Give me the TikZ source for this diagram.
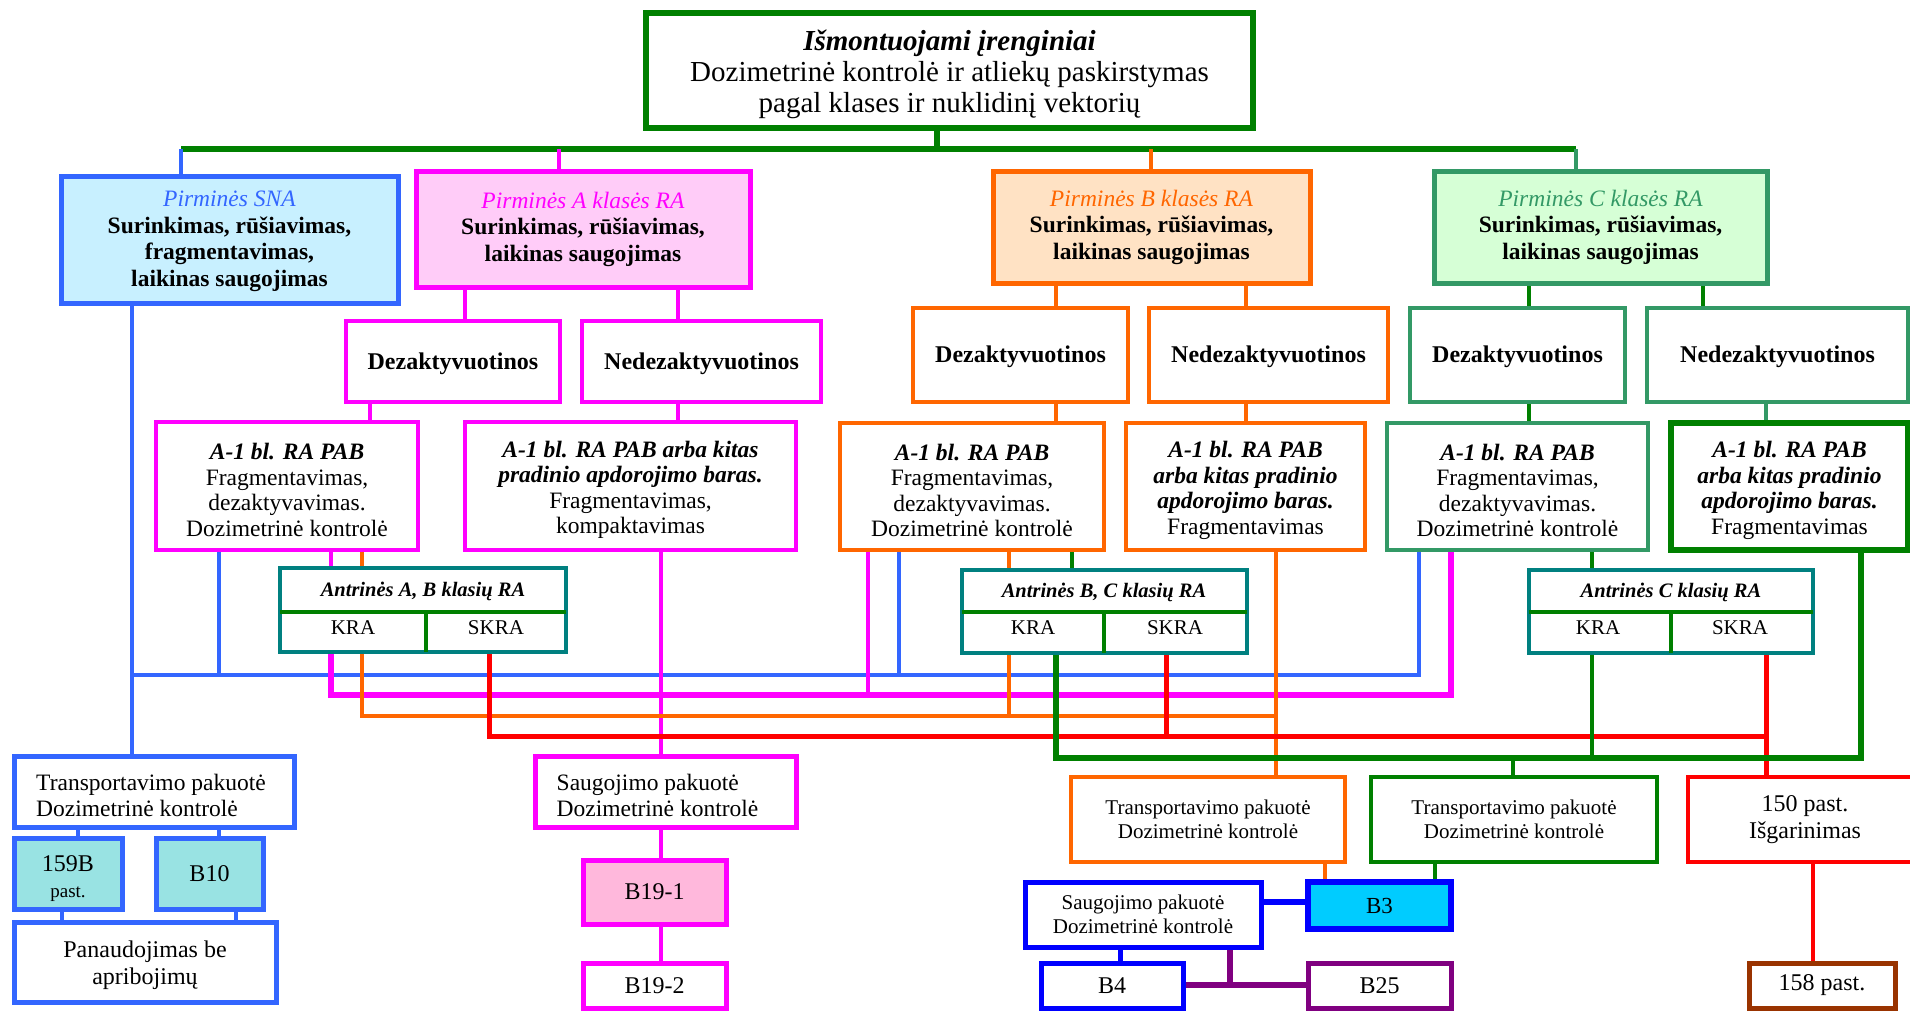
\documentclass[tikz,border=0pt]{standalone}
\usepackage{fontspec}
\setmainfont{Liberation Serif}
\usetikzlibrary{backgrounds}
\definecolor{cgreen}{HTML}{008000}
\definecolor{csna}{HTML}{3366FF}
\definecolor{cmag}{HTML}{FF00FF}
\definecolor{corange}{HTML}{FF6600}
\definecolor{csea}{HTML}{339966}
\definecolor{cteal}{HTML}{008080}
\definecolor{cred}{HTML}{FF0000}
\definecolor{cblue}{HTML}{0000FF}
\definecolor{cpurple}{HTML}{800080}
\definecolor{cbrown}{HTML}{993300}
\definecolor{fsna}{HTML}{C8F0FF}
\definecolor{fa}{HTML}{FFCCF8}
\definecolor{fb}{HTML}{FFE2C4}
\definecolor{fc}{HTML}{D6FFD6}
\definecolor{fteal}{HTML}{99E3E3}
\definecolor{fpink}{HTML}{FFB8DC}
\definecolor{fbthree}{HTML}{00CCFF}
\newcommand\myfs[2]{\fontsize{#1}{#2}\selectfont}
% name, x1, y1, x2, y2, box style, text style, text
\newcommand\bx[8]{\node[#6, minimum width={(#4)-(#2)}, minimum height={(#5)-(#3)}] (#1) at ({((#2)+(#4))/2},{((#3)+(#5))/2}) {};
  \node[txt, #7] (#1t) at (#1.center) {#8};}
\newcommand\vs[4]{\draw[#1] (#3.south -| #2,0) -- (#4.north -| #2,0);}
\tikzset{
  bx/.style={draw, inner sep=0pt, outer sep=0pt, fill=white, line width=4.5pt},
  prim/.style={bx, line width=5pt},
  txt/.style={inner sep=0pt, outer sep=0pt, align=center, font=\myfs{23.5}{25.5}},
  ptx/.style={font=\myfs{23.5}{26.5}},
  dzt/.style={font=\myfs{24}{26}\bfseries, yshift=-2pt},
  a1t/.style={yshift=-4pt},
  ant/.style={draw=cteal, line width=4.5pt, fill=white, inner sep=0pt, outer sep=0pt},
  antt/.style={font=\myfs{20.5}{22}\bfseries\itshape, inner sep=0pt},
  kra/.style={font=\myfs{21}{23}, inner sep=0pt},
  dv/.style={cgreen, line width=4pt},
  ln/.style={line join=miter, line cap=butt},
}
\begin{document}
\begin{tikzpicture}[x=1pt,y=-1pt]
\useasboundingbox (0,0) rectangle (1910,1010);
% ---------- boxes ----------
\bx{top}{646}{13}{1253}{128}{bx, draw=cgreen, line width=5.5pt}{font=\myfs{29}{31}, yshift=-4pt}{\textbf{\textit{Išmontuojami įrenginiai}}\\Dozimetrinė kontrolė ir atliekų paskirstymas\\pagal klases ir nuklidinį vektorių}
\bx{sna}{61}{176}{398}{303}{prim, draw=csna, fill=fsna}{ptx, yshift=-2pt}{\textcolor{csna}{\textit{Pirminės SNA}}\\\textbf{Surinkimas, rūšiavimas,}\\\textbf{fragmentavimas,}\\\textbf{laikinas saugojimas}}
\bx{pa}{416}{171}{750}{287}{prim, draw=cmag, fill=fa}{ptx}{\textcolor{cmag}{\textit{Pirminės A klasės RA}}\\\textbf{Surinkimas, rūšiavimas,}\\\textbf{laikinas saugojimas}}
\bx{pb}{993}{171}{1310}{283}{prim, draw=corange, fill=fb}{ptx}{\textcolor{corange}{\textit{Pirminės B klasės RA}}\\\textbf{Surinkimas, rūšiavimas,}\\\textbf{laikinas saugojimas}}
\bx{pc}{1434}{171}{1767}{283}{prim, draw=csea, fill=fc}{ptx}{\textcolor{csea}{\textit{Pirminės C klasės RA}}\\\textbf{Surinkimas, rūšiavimas,}\\\textbf{laikinas saugojimas}}
\bx{da}{346}{321}{560}{402}{bx, draw=cmag}{dzt}{Dezaktyvuotinos}
\bx{na}{582}{321}{821}{402}{bx, draw=cmag}{dzt}{Nedezaktyvuotinos}
\bx{db}{913}{308}{1128}{402}{bx, draw=corange}{dzt}{Dezaktyvuotinos}
\bx{nb}{1149}{308}{1388}{402}{bx, draw=corange}{dzt}{Nedezaktyvuotinos}
\bx{dc}{1410}{308}{1625}{402}{bx, draw=csea}{dzt}{Dezaktyvuotinos}
\bx{nc}{1647}{308}{1908}{402}{bx, draw=csea}{dzt}{Nedezaktyvuotinos}
\bx{a1ad}{156}{422}{418}{550}{bx, draw=cmag}{a1t}{\textbf{\textit{A-1 bl. RA PAB}}\\Fragmentavimas,\\dezaktyvavimas.\\Dozimetrinė kontrolė}
\bx{a1an}{465}{422}{796}{550}{bx, draw=cmag}{a1t}{\textbf{\textit{A-1 bl. RA PAB arba kitas}}\\\textbf{\textit{pradinio apdorojimo baras.}}\\Fragmentavimas,\\kompaktavimas}
\bx{a1bd}{840}{423}{1104}{550}{bx, draw=corange}{a1t}{\textbf{\textit{A-1 bl. RA PAB}}\\Fragmentavimas,\\dezaktyvavimas.\\Dozimetrinė kontrolė}
\bx{a1bn}{1126}{423}{1365}{550}{bx, draw=corange}{a1t}{\textbf{\textit{A-1 bl. RA PAB}}\\\textbf{\textit{arba kitas pradinio}}\\\textbf{\textit{apdorojimo baras.}}\\Fragmentavimas}
\bx{a1cd}{1387}{423}{1648}{550}{bx, draw=csea}{a1t}{\textbf{\textit{A-1 bl. RA PAB}}\\Fragmentavimas,\\dezaktyvavimas.\\Dozimetrinė kontrolė}
\bx{a1cn}{1671}{423}{1908}{550}{bx, draw=cgreen, line width=6pt}{a1t}{\textbf{\textit{A-1 bl. RA PAB}}\\\textbf{\textit{arba kitas pradinio}}\\\textbf{\textit{apdorojimo baras.}}\\Fragmentavimas}
% secondary boxes
\node[ant, minimum width=286, minimum height=84] (ab) at (423,610) {};
\draw[dv] (ab.west |- 0,612) -- (ab.east |- 0,612);
\draw[dv] (426,612) -- (ab.south -| 426,0);
\node[antt] (abt) at (423,591) {Antrinės A, B klasių RA};
\node[kra] (abk) at (353,628) {KRA};
\node[kra] (abs) at (496,628) {SKRA};
\node[ant, minimum width=285, minimum height=83] (bc) at (1104.5,611.5) {};
\draw[dv] (bc.west |- 0,612) -- (bc.east |- 0,612);
\draw[dv] (1104,612) -- (bc.south -| 1104,0);
\node[antt] (bct) at (1104,592) {Antrinės B, C klasių RA};
\node[kra] (bck) at (1033,628) {KRA};
\node[kra] (bcs) at (1175,628) {SKRA};
\node[ant, minimum width=284, minimum height=83] (cc) at (1671,611.5) {};
\draw[dv] (cc.west |- 0,612) -- (cc.east |- 0,612);
\draw[dv] (1671,612) -- (cc.south -| 1671,0);
\node[antt] (cct) at (1671,592) {Antrinės C klasių RA};
\node[kra] (cck) at (1598,628) {KRA};
\node[kra] (ccs) at (1740,628) {SKRA};
% lower boxes
\bx{tr1}{14}{756}{294}{827}{bx, draw=csna, line width=5pt}{align=left, font=\myfs{23.5}{26}, yshift=-4pt, xshift=-3pt}{Transportavimo pakuotė\\Dozimetrinė kontrolė}
\bx{b159}{14}{838}{122}{909}{bx, draw=csna, fill=fteal, line width=5pt}{font=\myfs{24}{26}, yshift=-5pt}{159B\\{\myfs{19}{21}past.}}
\bx{b10}{156}{838}{263}{909}{bx, draw=csna, fill=fteal, line width=5pt}{font=\myfs{24}{26}}{B10}
\bx{pan}{14}{922}{276}{1002}{bx, draw=csna, line width=5pt}{font=\myfs{24}{27}, yshift=-3pt}{Panaudojimas be\\apribojimų}
\bx{sm}{535}{756}{796}{827}{bx, draw=cmag, line width=5pt}{align=left, font=\myfs{23.5}{26}, yshift=-4pt, xshift=-8pt}{Saugojimo pakuotė\\Dozimetrinė kontrolė}
\bx{b191}{583}{860}{726}{924}{bx, draw=cmag, fill=fpink, line width=5pt}{font=\myfs{24}{26}}{B19-1}
\bx{b192}{583}{963}{726}{1008}{bx, draw=cmag, line width=5pt}{font=\myfs{24}{26}}{B19-2}
\bx{tro}{1071}{777}{1345}{862}{bx, draw=corange}{font=\myfs{21}{24}}{Transportavimo pakuotė\\Dozimetrinė kontrolė}
\bx{trg}{1371}{777}{1657}{862}{bx, draw=cgreen}{font=\myfs{21}{24}}{Transportavimo pakuotė\\Dozimetrinė kontrolė}
\bx{p150}{1688}{777}{1922}{862}{bx, draw=cred}{font=\myfs{24}{27}}{150 past.\\Išgarinimas}
\bx{b3}{1308}{882}{1451}{929}{bx, draw=cblue, fill=fbthree, line width=6pt}{font=\myfs{23}{25}}{B3}
\bx{sb}{1025}{882}{1261}{947}{bx, draw=cblue, line width=5pt}{font=\myfs{21}{24}}{Saugojimo pakuotė\\Dozimetrinė kontrolė}
\bx{b4}{1041}{963}{1183}{1008}{bx, draw=cblue, line width=5pt}{font=\myfs{24}{26}}{B4}
\bx{b25}{1308}{963}{1451}{1008}{bx, draw=cpurple, line width=5pt}{font=\myfs{24}{26}}{B25}
\bx{p158}{1749}{963}{1895}{1008}{bx, draw=cbrown, line width=5pt}{font=\myfs{24}{26}}{158 past.}
% ---------- connectors ----------
\begin{scope}[on background layer, ln]
\coordinate (busL) at (181,149);
\coordinate (busR) at (1576,149);
\draw[cgreen, line width=5.5pt] (top.south -| 937,0) -- (937,149);
\draw[cgreen, line width=5.5pt] (busL) -- (busR);
\draw[csna, line width=3.5pt] (busL) -- (sna.north -| busL);
\draw[cmag, line width=3.5pt] (559,149) -- (pa.north -| 559,0);
\draw[corange, line width=3.5pt] (1151,149) -- (pb.north -| 1151,0);
\draw[csea, line width=3.5pt] (busR) -- (pc.north -| busR);
\vs{cmag, line width=4pt}{465}{pa}{da}
\vs{cmag, line width=4pt}{678}{pa}{na}
\vs{corange, line width=4pt}{1056}{pb}{db}
\vs{corange, line width=4pt}{1246}{pb}{nb}
\vs{cgreen, line width=4pt}{1529}{pc}{dc}
\vs{cgreen, line width=4pt}{1703}{pc}{nc}
\vs{cmag, line width=4pt}{370}{da}{a1ad}
\vs{cmag, line width=4pt}{678}{na}{a1an}
\vs{corange, line width=4pt}{1056}{db}{a1bd}
\vs{corange, line width=4pt}{1246}{nb}{a1bn}
\vs{cgreen, line width=4pt}{1529}{dc}{a1cd}
\vs{csea, line width=4pt}{1766}{nc}{a1cn}
\vs{cmag, line width=4.5pt}{331}{a1ad}{ab}
\vs{corange, line width=4.5pt}{362}{a1ad}{ab}
\vs{corange, line width=4pt}{1009}{a1bd}{bc}
\vs{cgreen, line width=4pt}{1072}{a1bd}{bc}
\vs{cgreen, line width=4pt}{1592}{a1cd}{cc}
% blue
\draw[csna, line width=3.5pt] (sna.south -| 132,0) -- (tr1.north -| 132,0);
\draw[csna, line width=3.5pt] (132,675) -- (1419,675) -- (a1cd.south -| 1419,0);
\draw[csna, line width=3.5pt] (a1ad.south -| 219,0) -- (219,675);
\draw[csna, line width=3.5pt] (a1bd.south -| 899,0) -- (899,675);
% magenta
\draw[cmag, line width=5.5pt] (ab.south -| 331,0) -- (331,695) -- (1451,695) -- (a1cd.south -| 1451,0);
\draw[cmag, line width=3.5pt] (a1bd.south -| 868,0) -- (868,695);
\vs{cmag, line width=3.5pt}{661}{a1an}{sm}
% orange
\draw[corange, line width=4.5pt] (ab.south -| 362,0) -- (362,716) -- (1276,716);
\vs{corange, line width=4.5pt}{1276}{a1bn}{tro}
\draw[corange, line width=3.5pt] (bc.south -| 1009,0) -- (1009,716);
% red
\draw[cred, line width=5pt] (ab.south -| 489,0) -- (489,736) -- (1766,736);
\draw[cred, line width=5pt] (bc.south -| 1166,0) -- (1166,736);
\vs{cred, line width=5pt}{1766}{cc}{p150}
% green lower
\draw[cgreen, line width=6pt] (bc.south -| 1056,0) -- (1056,758) -- (1861,758) -- (a1cn.south -| 1861,0);
\draw[cgreen, line width=4pt] (cc.south -| 1592,0) -- (1592,758);
\draw[cgreen, line width=4pt] (1513,758) -- (trg.north -| 1513,0);
% bottom
\vs{corange, line width=4pt}{1325}{tro}{b3}
\vs{cgreen, line width=4pt}{1435}{trg}{b3}
\draw[cblue, line width=6pt] (sb.east |- 0,902) -- (b3.west |- 0,902);
\vs{cblue, line width=5pt}{1120}{sb}{b4}
\draw[cpurple, line width=6pt] (sb.south -| 1230,0) -- (1230,985);
\draw[cpurple, line width=6pt] (b4.east |- 0,985) -- (b25.west |- 0,985);
\vs{cred, line width=3.5pt}{1813}{p150}{p158}
\vs{csna, line width=4pt}{78}{tr1}{b159}
\vs{csna, line width=4pt}{219}{tr1}{b10}
\vs{csna, line width=4pt}{62}{b159}{pan}
\vs{csna, line width=4pt}{236}{b10}{pan}
\vs{cmag, line width=4.5pt}{661}{sm}{b191}
\vs{cmag, line width=4.5pt}{661}{b191}{b192}
\end{scope}
\end{tikzpicture}
\end{document}
